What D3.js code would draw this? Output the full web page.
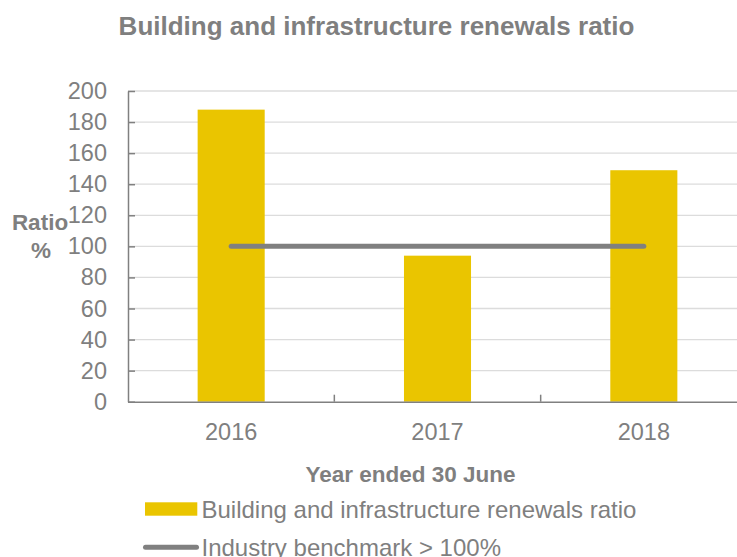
<!DOCTYPE html>
<html><head><meta charset="utf-8">
<script src="https://cdn.jsdelivr.net/npm/d3@7"></script>
<style>body{margin:0;background:#fff;} svg{display:block;font-family:"Liberation Sans",Arial,sans-serif;}</style>
</head><body>
<svg id="c" width="737" height="557"></svg>
<script>
const categories = ["2016", "2017", "2018"];
const renewals = [188, 94, 149];
const benchmark = [100, 100, 100];
const yTicks = [0, 20, 40, 60, 80, 100, 120, 140, 160, 180, 200];

const svg = d3.select("#c");
const gray = "#808080";
const txt = "#7f7f7f";
const mLeft = 128, mRight = 747, mTop = 91, mBottom = 401.7;
const x = d3.scaleBand().domain(categories).range([mLeft, mRight]).paddingInner(0.675).paddingOuter(0.3375);
const y = d3.scaleLinear().domain([0, 200]).range([mBottom, mTop]);

// gridlines
svg.append("g").selectAll("line").data(yTicks.filter(d => d > 0)).join("line")
  .attr("x1", mLeft).attr("x2", 737).attr("y1", d => y(d)).attr("y2", d => y(d))
  .attr("stroke", "#dcdcdc").attr("stroke-width", 1.3);

// bars
svg.append("g").selectAll("rect").data(renewals).join("rect")
  .attr("x", (d, i) => x(categories[i])).attr("width", x.bandwidth())
  .attr("y", d => y(d)).attr("height", d => y(0) - y(d)).attr("fill", "#EAC500");

// benchmark line
const line = d3.line().x((d, i) => x(categories[i]) + x.bandwidth() / 2).y(d => y(d));
svg.append("path").datum(benchmark).attr("d", line).attr("fill", "none")
  .attr("stroke", gray).attr("stroke-width", 5).attr("stroke-linecap", "round");

// y axis
const yAxis = svg.append("g").attr("transform", `translate(${mLeft},0)`)
  .call(d3.axisLeft(y).tickValues(yTicks).tickSize(-7).tickSizeOuter(0).tickPadding(21));
yAxis.select(".domain").attr("stroke", gray).attr("stroke-width", 1.5);
yAxis.selectAll(".tick line").attr("stroke", gray).attr("stroke-width", 1.5);
yAxis.selectAll("text").attr("fill", txt).attr("font-size", 23.5).attr("font-family", "Liberation Sans, Arial, sans-serif");

// x axis
const xAxis = svg.append("g").attr("transform", `translate(0,${mBottom})`)
  .call(d3.axisBottom(x).tickSize(0).tickPadding(22));
xAxis.select(".domain").attr("stroke", gray).attr("stroke-width", 1.5);
xAxis.selectAll("text").attr("fill", txt).attr("font-size", 23.5).attr("font-family", "Liberation Sans, Arial, sans-serif");
// separator ticks between categories
const step = x.step();
svg.append("g").selectAll("line").data(categories.slice(1)).join("line")
  .attr("x1", d => x(d) - x.paddingInner() * step / 2).attr("x2", d => x(d) - x.paddingInner() * step / 2)
  .attr("y1", mBottom).attr("y2", mBottom - 7).attr("stroke", gray).attr("stroke-width", 1.5);

// title
svg.append("text").attr("x", 376.5).attr("y", 35).attr("text-anchor", "middle")
  .attr("font-size", 26).attr("font-weight", "bold").attr("fill", txt)
  .text("Building and infrastructure renewals ratio");

// y label
const yl = svg.append("text").attr("text-anchor", "middle").attr("font-size", 22.5).attr("font-weight", "bold").attr("fill", txt);
yl.append("tspan").attr("x", 40).attr("y", 230).text("Ratio");
yl.append("tspan").attr("x", 41).attr("y", 258).text("%");

// x label
svg.append("text").attr("x", 410.5).attr("y", 481.5).attr("text-anchor", "middle")
  .attr("font-size", 22.5).attr("font-weight", "bold").attr("fill", txt).text("Year ended 30 June");

// legend
svg.append("rect").attr("x", 145).attr("y", 502.3).attr("width", 52.3).attr("height", 13.4).attr("fill", "#EAC500");
svg.append("text").attr("x", 201.5).attr("y", 517.5).attr("font-size", 24).attr("fill", txt)
  .text("Building and infrastructure renewals ratio");
svg.append("line").attr("x1", 145.5).attr("x2", 196.5).attr("y1", 547.3).attr("y2", 547.3)
  .attr("stroke", gray).attr("stroke-width", 5).attr("stroke-linecap", "round");
svg.append("text").attr("x", 201.5).attr("y", 556).attr("font-size", 24).attr("fill", txt)
  .text("Industry benchmark > 100%");
</script>
</body></html>
